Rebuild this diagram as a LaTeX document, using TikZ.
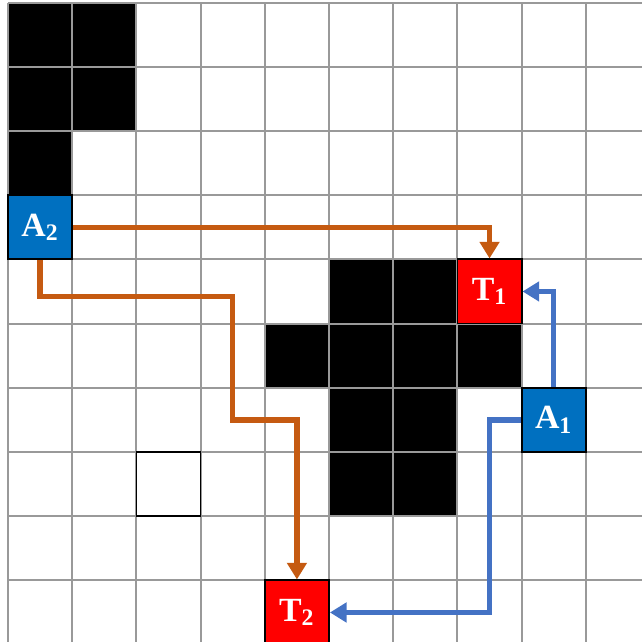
\documentclass[tikz,border=0pt]{standalone}
\usepackage{fontspec}
\setmainfont{Liberation Serif}
\usetikzlibrary{arrows.meta}
\definecolor{agentblue}{HTML}{0070C0}
\definecolor{goalred}{HTML}{FF0000}
\definecolor{routeorange}{HTML}{C55A11}
\definecolor{routeblue}{HTML}{4472C4}
\tikzset{
  cell/.style={draw=black, line width=0.8pt, minimum size=1cm, inner sep=0pt,
    text=white, font=\fontsize{15}{18}\selectfont\bfseries},
  route/.style={line width=2.4pt, -{Triangle[length=0.26cm, width=0.3cm]}},
}
\begin{document}
\begin{tikzpicture}[x=1cm, y=-1cm]
  \useasboundingbox (-0.125,-0.04) rectangle (9.86,9.96);
  % obstacles
  \foreach \c/\r in {0/0, 1/0, 0/1, 1/1, 0/2, 5/4, 6/4, 4/5, 5/5, 6/5, 7/5,
      5/6, 6/6, 5/7, 6/7} {
    \fill[black] (\c,\r) rectangle ++(1,1);
  }
  \draw[black!40, line width=0.9pt] (0,0) grid (10,10);
  \draw[black, line width=0.7pt] (2,7) rectangle (3,8);
  % agents and targets
  \node[cell, fill=agentblue] (A2) at (0.5,3.5) {A\textsubscript{2}};
  \node[cell, fill=agentblue] (A1) at (8.5,6.5) {A\textsubscript{1}};
  \node[cell, fill=goalred] (T1) at (7.5,4.5) {T\textsubscript{1}};
  \node[cell, fill=goalred] (T2) at (4.5,9.5) {T\textsubscript{2}};
  \coordinate (o1) at (3.5,4.58);
  \coordinate (o2) at (3.5,6.5);
  \coordinate (b1) at (7.5,9.5);
  % routes
  \draw[route, routeorange] (A2.east) -| (T1.north);
  \draw[route, routeorange] (A2.south) |- (o1) -- (o2) -| (T2.north);
  \draw[route, routeblue] (A1.north) |- (T1.east);
  \draw[route, routeblue] (A1.west) -| (b1) -- (T2.east);
\end{tikzpicture}
\end{document}
